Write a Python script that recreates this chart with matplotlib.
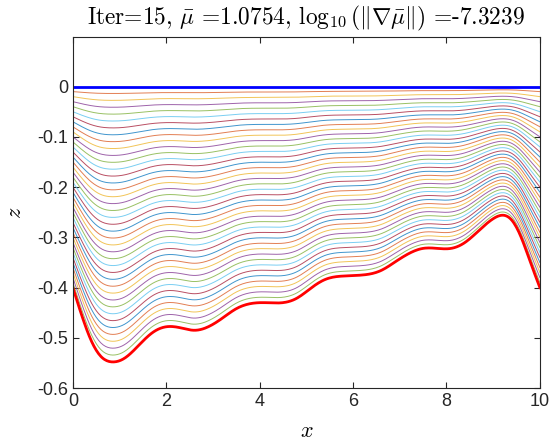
import numpy as np
import matplotlib
matplotlib.use("Agg")
import matplotlib.pyplot as plt

plt.rcParams['font.family'] = ['Liberation Sans', 'DejaVu Sans']
plt.rcParams['mathtext.fontset'] = 'cm'

# bottom boundary (x, z)
x_pts = [0.0, 0.2, 0.4, 0.6, 0.85, 1.1, 1.4, 1.7, 2.0, 2.3, 2.6, 2.9, 3.2, 3.5,
         3.8, 4.1, 4.5, 4.8, 5.1, 5.4, 5.8, 6.2, 6.6, 6.9, 7.2, 7.5, 7.8, 8.1,
         8.4, 8.7, 9.0, 9.2, 9.4, 9.6, 9.8, 10.0]
bottom_z = [-0.400, -0.458, -0.507, -0.537, -0.548, -0.541, -0.516, -0.490,
            -0.478, -0.480, -0.485, -0.478, -0.461, -0.442, -0.432, -0.430,
            -0.430, -0.421, -0.401, -0.384, -0.377, -0.375, -0.366, -0.349,
            -0.332, -0.322, -0.322, -0.322, -0.310, -0.286, -0.263, -0.256,
            -0.266, -0.300, -0.350, -0.400]
top_z = [0.0] * len(x_pts)
n_levels = 40  # number of grid layers between surface and bottom

matlab_colors = ['#0072BD', '#D95319', '#EDB120', '#7E2F8E',
                 '#77AC30', '#4DBEEE', '#A2142F']


def smooth_line(xk, yk, n=400):
    # natural cubic spline through the read points, only for drawing
    xk = np.asarray(xk, float)
    yk = np.asarray(yk, float)
    m = len(xk)
    h = np.diff(xk)
    A = np.zeros((m, m))
    r = np.zeros(m)
    A[0, 0] = A[-1, -1] = 1.0
    for i in range(1, m - 1):
        A[i, i - 1] = h[i - 1]
        A[i, i] = 2 * (h[i - 1] + h[i])
        A[i, i + 1] = h[i]
        r[i] = 6 * ((yk[i + 1] - yk[i]) / h[i] - (yk[i] - yk[i - 1]) / h[i - 1])
    M = np.linalg.solve(A, r)
    xs = np.linspace(xk[0], xk[-1], n)
    j = np.clip(np.searchsorted(xk, xs) - 1, 0, m - 2)
    t0 = xk[j + 1] - xs
    t1 = xs - xk[j]
    hj = h[j]
    ys = (M[j] * t0 ** 3 / (6 * hj) + M[j + 1] * t1 ** 3 / (6 * hj)
          + (yk[j] / hj - M[j] * hj / 6) * t0
          + (yk[j + 1] / hj - M[j + 1] * hj / 6) * t1)
    return xs, ys


xs, zb = smooth_line(x_pts, bottom_z)
_, zt = smooth_line(x_pts, top_z)

fig = plt.figure(figsize=(5.52, 4.44), dpi=100)
ax = fig.add_axes([0.132, 0.126, 0.846, 0.791])

for k in range(n_levels + 1):
    s = k / n_levels
    z = zt + s * (zb - zt)
    ax.plot(xs, z, color=matlab_colors[k % 7], lw=0.7, alpha=0.75)

ax.plot(xs, zt, color='#0000FF', lw=2.0)
ax.plot(xs, zb, color='#FF0000', lw=2.0)

ax.set_xlim(0, 10)
ax.set_ylim(-0.6, 0.099)
ax.set_xticks([0, 2, 4, 6, 8, 10])
ax.set_yticks([-0.6, -0.5, -0.4, -0.3, -0.2, -0.1, 0])
ax.set_yticklabels(['-0.6', '-0.5', '-0.4', '-0.3', '-0.2', '-0.1', '0'])
ax.tick_params(direction='in', top=True, right=True, labelsize=13,
               colors='#262626', length=4, width=0.8)
for sp in ax.spines.values():
    sp.set_color('#262626')
    sp.set_linewidth(0.8)

ax.set_xlabel('$x$', fontsize=16, labelpad=8)
ax.set_ylabel('$z$', fontsize=16, labelpad=8)
ax.set_title(r'Iter=15, $\bar{\mu}$ =1.0754, '
             r'$\log_{10}(\|\nabla\bar{\mu}\|)$ =-7.3239',
             fontsize=16.8, family='cmr10', pad=9)

fig.savefig('out.png', dpi=100)
